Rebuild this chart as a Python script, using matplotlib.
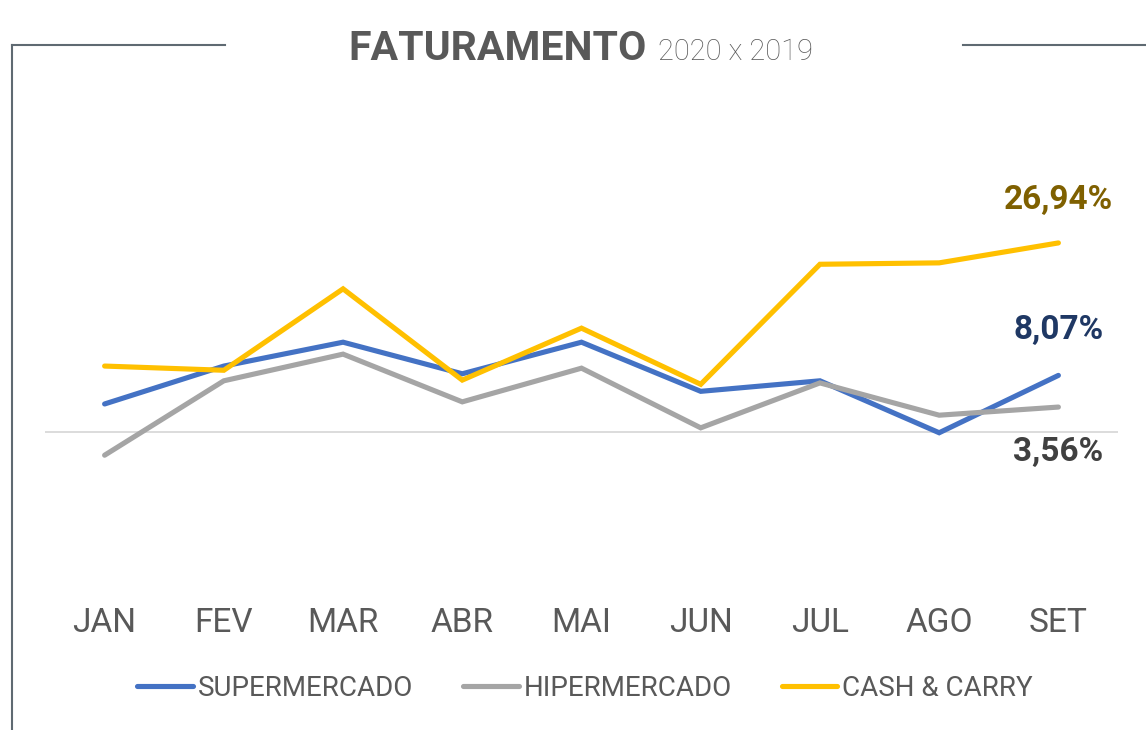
import matplotlib
matplotlib.use("Agg")
import matplotlib.pyplot as plt
from matplotlib.lines import Line2D

plt.rcParams['font.family'] = ['Roboto', 'DejaVu Sans']

# dados (variação % 2020 x 2019)
meses = ['JAN', 'FEV', 'MAR', 'ABR', 'MAI', 'JUN', 'JUL', 'AGO', 'SET']
supermercado = [4.0, 9.4, 12.8, 8.3, 12.8, 5.8, 7.3, -0.1, 8.07]
hipermercado = [-3.3, 7.3, 11.1, 4.3, 9.1, 0.6, 7.0, 2.4, 3.56]
cash_carry = [9.4, 8.8, 20.4, 7.4, 14.8, 6.8, 23.9, 24.1, 26.94]

series = [
    ('SUPERMERCADO', supermercado, '#4472C4', '#1F3864', 45),
    ('HIPERMERCADO', hipermercado, '#A5A5A5', '#404040', -45),
    ('CASH & CARRY', cash_carry, '#FFC000', '#7F6000', 43),
]

W, H = 1146, 730
fig = plt.figure(figsize=(W / 100, H / 100), dpi=100)
ax = fig.add_axes([45 / W, 1 - 590 / H, 1073 / W, 490 / H])

x = list(range(len(meses)))
for nome, vals, cor, cor_txt, dy in series:
    ax.plot(x, vals, color=cor, lw=3.7, solid_capstyle='round',
            solid_joinstyle='miter', label=nome, zorder=3)
    txt = f"{vals[-1]:.2f}%".replace('.', ',')
    ax.annotate(txt, (x[-1], vals[-1]), xytext=(0, dy), textcoords='offset pixels',
                ha='center', va='center', fontsize=24, fontweight='bold', color=cor_txt)

ax.axhline(0, color='#D9D9D9', lw=1.3, zorder=1)
ax.set_xlim(-0.5, 8.5)
ax.set_ylim(-22.5, 47.3)
ax.set_yticks([])
ax.set_xticks(x)
ax.set_xticklabels(meses, fontsize=24, color='#595959')
ax.tick_params(axis='x', length=0, pad=12)
for s in ax.spines.values():
    s.set_visible(False)

fig.legend(loc='center', bbox_to_anchor=(585 / W, 1 - 688 / H), ncol=3, frameon=False,
           fontsize=20, handlelength=2.0, handletextpad=0.18, columnspacing=1.8,
           labelcolor='#595959')

# título
fig.text(647 / W, 1 - 60 / H, 'FATURAMENTO', ha='right', va='baseline',
         fontsize=29.5, fontweight='bold', color='#595959')
fig.text(658 / W, 1 - 60 / H, '2020 x 2019', ha='left', va='baseline',
         fontsize=21, fontweight='light', color='#595959')

# moldura
cor_mold = '#5F6A72'
ty = 1 - 45 / H
fig.add_artist(Line2D([12 / W, 225 / W], [ty, ty], color=cor_mold, lw=1.5))
fig.add_artist(Line2D([963 / W, 1.0], [ty, ty], color=cor_mold, lw=1.5))
fig.add_artist(Line2D([12 / W, 12 / W], [ty, 0], color=cor_mold, lw=1.5))

fig.savefig('out.png', dpi=100)
